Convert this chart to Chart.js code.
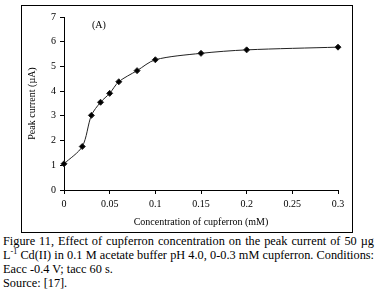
<!DOCTYPE html>
<html>
<head>
  <script src="https://cdn.jsdelivr.net/npm/chart.js"></script>
  <style>
    body { margin: 0; background: #fff; width: 379px; height: 294px; position: relative; overflow: hidden; font-family: "Liberation Serif", serif; }
    .box { position: absolute; left: 21px; top: 5px; width: 330px; height: 226px; border: 1px solid #000; }
    .tag { position: absolute; left: 92px; top: 19px; font-size: 10px; color: #000; }
    .caption { position: absolute; left: 3px; top: 234px; width: 371px; font-size: 12.3px; line-height: 14px; color: #000; }
    .caption div { white-space: nowrap; }
    .caption .full { text-align: justify; text-align-last: justify; }
    sup { font-size: 8px; line-height: 0; }
  </style>
</head>
<body>
  <div class="box"><canvas id="chart" width="330" height="226"></canvas></div>
  <div class="tag">(A)</div>
  <div class="caption">
    <div class="full">Figure 11, Effect of cupferron concentration on the peak current of 50 µg</div>
    <div class="full">L<sup>-1</sup> Cd(II) in 0.1 M acetate buffer pH 4.0, 0-0.3 mM cupferron. Conditions:</div>
    <div>Eacc -0.4 V; tacc 60 s.</div>
    <div>Source: [17].</div>
  </div>
  <script>
    const concentration = [0, 0.02, 0.03, 0.04, 0.05, 0.06, 0.08, 0.1, 0.15, 0.2, 0.3];
    const peakCurrent = [1.06, 1.76, 3.02, 3.55, 3.91, 4.38, 4.83, 5.27, 5.53, 5.67, 5.78];
    const xTicks = [0, 0.05, 0.1, 0.15, 0.2, 0.25, 0.3];
    const yTicks = [0, 1, 2, 3, 4, 5, 6, 7];

    const font = { family: 'Liberation Serif', size: 10 };

    new Chart(document.getElementById('chart'), {
      type: 'line',
      data: {
        datasets: [{
          data: concentration.map((c, i) => ({ x: c, y: peakCurrent[i] })),
          borderColor: '#222',
          borderWidth: 1,
          backgroundColor: '#000',
          pointStyle: 'rectRot',
          pointRadius: 3,
          tension: 0.3,
          fill: false,
          clip: false
        }]
      },
      options: {
        responsive: false,
        animation: false,
        layout: { padding: { top: 11, right: 14, left: 0, bottom: 0 } },
        plugins: { legend: { display: false }, tooltip: { enabled: false } },
        scales: {
          x: {
            type: 'linear', min: 0, max: 0.3,
            afterBuildTicks: s => { s.ticks = xTicks.map(v => ({ value: v })); },
            afterFit: s => { s.height = 42; },
            grid: { drawOnChartArea: false, tickLength: 4, color: '#000' },
            border: { color: '#000' },
            ticks: { font: font, color: '#000', maxRotation: 0, padding: 4, callback: v => String(v) },
            title: { display: true, text: 'Concentration of cupferron (mM)', font: font, color: '#000', padding: { top: 2 } }
          },
          y: {
            min: 0, max: 7,
            afterBuildTicks: s => { s.ticks = yTicks.map(v => ({ value: v })); },
            afterFit: s => { s.width = 42; },
            grid: { drawOnChartArea: false, tickLength: 4, color: '#000' },
            border: { color: '#000' },
            ticks: { font: font, color: '#000', padding: 4 },
            title: { display: true, text: 'Peak current (µA)', font: font, color: '#000', padding: { bottom: 4 } }
          }
        }
      }
    });
  </script>
</body>
</html>
